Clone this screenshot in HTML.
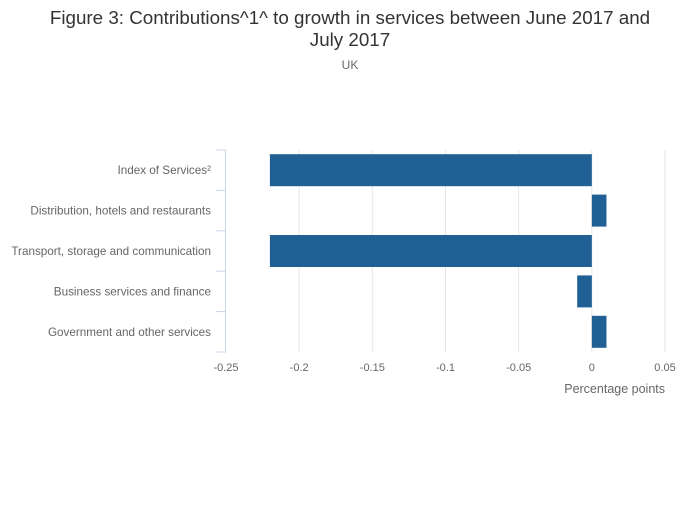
<!DOCTYPE html>
<html><head><meta charset="utf-8"><style>
body{margin:0;background:#fff;font-family:"Liberation Sans","DejaVu Sans",sans-serif}
</style></head><body>
<svg id="chart" width="700" height="502" xmlns="http://www.w3.org/2000/svg">
<text x="350" y="24" text-anchor="middle" font-size="18.8" fill="#333">Figure 3: Contributions^1^ to growth in services between June 2017 and</text>
<text x="350" y="46" text-anchor="middle" font-size="18.8" fill="#333">July 2017</text>
<text x="350" y="69" text-anchor="middle" font-size="12" fill="#666">UK</text>
<g id="grid"></g><g id="bars"></g><g id="axes"></g>
<text x="665" y="393" text-anchor="end" font-size="12.5" fill="#666">Percentage points</text>
</svg>
<script>
const categories=["Index of Services²","Distribution, hotels and restaurants","Transport, storage and communication","Business services and finance","Government and other services"];
const values=[-0.22,0.01,-0.22,-0.01,0.01];
const xTicks=[-0.25,-0.2,-0.15,-0.1,-0.05,0,0.05];
const xTickLabels=["-0.25","-0.2","-0.15","-0.1","-0.05","0","0.05"];
const NS="http://www.w3.org/2000/svg";
const x0=226,x1=665,yTop=150,yBot=352,vmin=-0.25,vmax=0.05;
function xs(v){return x0+(v-vmin)/(vmax-vmin)*(x1-x0);}
const band=(yBot-yTop)/categories.length;
function mk(tag,attrs,parent){const e=document.createElementNS(NS,tag);for(const k in attrs)e.setAttribute(k,attrs[k]);document.getElementById(parent).appendChild(e);return e;}
xTicks.forEach((t,i)=>{
  if(i>0){const g=mk('line',{x1:xs(t),x2:xs(t),y1:yTop,y2:yBot,stroke:'#e6e6e6','stroke-width':1},'grid');
  
  }
  const l=mk('text',{x:xs(t),y:371,'text-anchor':'middle','font-size':11,fill:'#666'},'axes');
  l.textContent=xTickLabels[i];
  
  
});
const ax=mk('line',{x1:x0-0.5,x2:x0-0.5,y1:yTop,y2:yBot,stroke:'#ccd6eb','stroke-width':1},'axes');


for(let i=0;i<=categories.length;i++){
  const y=yTop+i*band;
  const tk=mk('line',{x1:x0-10,x2:x0,y1:y,y2:y,stroke:'#ccd6eb','stroke-width':1},'axes');
  
  
}
categories.forEach((c,i)=>{
  const yc=yTop+(i+0.5)*band;
  const t=mk('text',{x:211,y:yc+4,'text-anchor':'end','font-size':11.7,fill:'#666'},'axes');
  t.textContent=c;
  
  
  const v=values[i];
  const a=xs(Math.min(0,v)),b=xs(Math.max(0,v));
  const r=mk('rect',{x:a,y:yc-16,width:b-a,height:32,fill:'#206095'},'bars');
  
  
});
</script>
</body></html>
